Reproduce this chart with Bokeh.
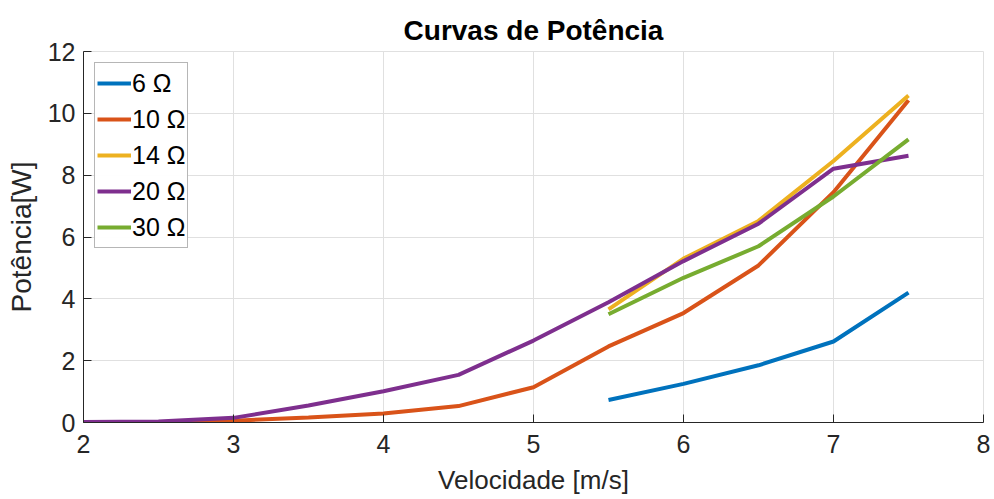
from bokeh.plotting import figure
from bokeh.models import Range1d, FixedTicker, Legend, LegendItem
from bokeh.embed import file_html
from bokeh.resources import INLINE

x_6 = [5.5, 6.0, 6.5, 7.0, 7.5]
p_6 = [0.73, 1.25, 1.85, 2.62, 4.2]

x_10 = [2.0, 2.5, 3.0, 3.5, 4.0, 4.5, 5.0, 5.5, 6.0, 6.5, 7.0, 7.5]
p_10 = [0.0, 0.0, 0.06, 0.16, 0.29, 0.53, 1.14, 2.46, 3.54, 5.08, 7.45, 10.42]

x_14 = [5.5, 6.0, 6.5, 7.0, 7.5]
p_14 = [3.66, 5.3, 6.52, 8.46, 10.58]

x_20 = [2.0, 2.5, 3.0, 3.5, 4.0, 4.5, 5.0, 5.5, 6.0, 6.5, 7.0, 7.5]
p_20 = [0.02, 0.03, 0.15, 0.55, 1.01, 1.54, 2.65, 3.89, 5.22, 6.43, 8.21, 8.63]

x_30 = [5.5, 6.0, 6.5, 7.0, 7.5]
p_30 = [3.5, 4.68, 5.7, 7.31, 9.16]

labels = ["6 \u03a9", "10 \u03a9", "14 \u03a9", "20 \u03a9", "30 \u03a9"]
colors = ["#0072BD", "#D95319", "#EDB120", "#7E2F8E", "#77AC30"]
x_ticks = [2, 3, 4, 5, 6, 7, 8]
y_ticks = [0, 2, 4, 6, 8, 10, 12]

FONT = "Liberation Sans"

p = figure(width=994, height=499, output_backend="svg", toolbar_location=None,
           x_range=Range1d(2, 8), y_range=Range1d(0, 12),
           min_border_left=83, min_border_right=11, min_border_top=51, min_border_bottom=77,
           title="Curvas de Potência")
p.title.align = "center"
p.title.text_font = FONT
p.title.text_font_size = "28px"
p.title.text_font_style = "bold"
p.title.text_color = "#000000"
p.title.offset = 0
p.title.standoff = 11

series = [(x_6, p_6), (x_10, p_10), (x_14, p_14), (x_20, p_20), (x_30, p_30)]
items = []
for (xs, ys), lab, col in zip(series, labels, colors):
    r = p.line(xs, ys, line_color=col, line_width=4)
    items.append(LegendItem(label=lab, renderers=[r]))

legend = Legend(items=items, location="top_left")
legend.label_text_font = FONT
legend.label_text_font_size = "25px"
legend.label_text_color = "#000000"
legend.label_standoff = 1
legend.glyph_width = 34
legend.glyph_height = 36
legend.label_height = 36
legend.spacing = 0
legend.padding = 2
legend.margin = 11
legend.border_line_color = "#6e6e6e"
legend.border_line_width = 1
p.add_layout(legend)

for ax in (p.xaxis, p.yaxis):
    ax.axis_line_color = "#262626"
    ax.major_tick_line_color = "#262626"
    ax.major_tick_in = 8
    ax.major_tick_out = 0
    ax.minor_tick_line_color = None
    ax.major_label_text_font = FONT
    ax.major_label_text_font_size = "25px"
    ax.major_label_text_color = "#262626"
    ax.axis_label_text_font = FONT
    ax.axis_label_text_font_style = "normal"
    ax.axis_label_text_color = "#262626"

p.xaxis.axis_label_text_font_size = "26px"
p.yaxis.axis_label_text_font_size = "28px"
p.xaxis.ticker = FixedTicker(ticks=x_ticks)
p.yaxis.ticker = FixedTicker(ticks=y_ticks)
p.xaxis.axis_label = "Velocidade [m/s]"
p.yaxis.axis_label = "Potência[W]"
p.xaxis.major_label_standoff = 12
p.yaxis.major_label_standoff = 8
p.xaxis.axis_label_standoff = 9
p.yaxis.axis_label_standoff = 8

p.xgrid.ticker = FixedTicker(ticks=x_ticks)
p.ygrid.ticker = FixedTicker(ticks=y_ticks)
p.grid.grid_line_color = "#e0e0e0"
p.grid.grid_line_width = 1
p.outline_line_color = "#e0e0e0"
p.outline_line_width = 1

open("out.html", "w").write(file_html(p, INLINE))
